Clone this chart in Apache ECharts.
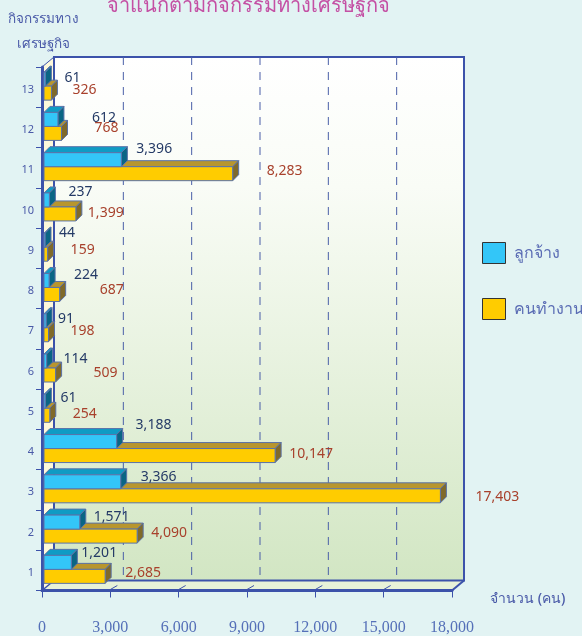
<!DOCTYPE html>
<html>
<head>
<meta charset="utf-8">
<script src="https://cdn.jsdelivr.net/npm/echarts@6/dist/echarts.min.js"></script>
<style>
  html, body { margin: 0; padding: 0; background: #e2f3f3; }
  #chart { width: 582px; height: 636px; }
</style>
</head>
<body>
<div id="chart"></div>
<script>
const categories = ['1','2','3','4','5','6','7','8','9','10','11','12','13'];
const employees = [1201, 1571, 3366, 3188, 61, 114, 91, 224, 44, 237, 3396, 612, 61];
const workers = [2685, 4090, 17403, 10147, 254, 509, 198, 687, 159, 1399, 8283, 768, 326];
const xTicks = [3000, 6000, 9000, 12000, 15000];

// hand placed labels in the original, offsets from the bar end
const employeeLabelDx = [10, 14, 20, 19, 15, 17, 12, 25, 14, 19, 15, 34, 19];
const employeeLabelDy = [-17, -13, -13, -25, -11, -10, -10, -13, -15, -16, -19, -9, -9];
const workerLabelDx = [20, 14, 35, 14, 23, 38, 22, 40, 23, 12, 34, 33, 21];
const workerLabelDy = [3, 3, 7, 4, 5, 4, 2, 2, 2, 5, 3, 1, 3];

const font = '"Noto Sans", "Open Sans", sans-serif';
const depth = 6;
const wallX = 12, wallY = 10;
const lineBlue = '#3c52aa';

const chart = echarts.init(document.getElementById('chart'));

function poly(points, fill) {
  return {
    type: 'polygon',
    shape: { points: points },
    style: { fill: fill, stroke: '#5a72a8', lineWidth: 1 }
  };
}

// 3d box for one bar, top is the offset from the band centre
function boxRenderer(values, top, colors, textColor, dxs, dys) {
  return function (params, api) {
    const v = api.value(0);
    const c = api.coord([v, api.value(1)]);
    const x0 = api.coord([0, api.value(1)])[0] + 2;
    const x1 = c[0] + 2;
    const y0 = c[1] + top;
    const y1 = y0 + 14;
    const i = params.dataIndex;
    return {
      type: 'group',
      children: [
        poly([[x0, y0], [x0 + depth, y0 - depth], [x1 + depth, y0 - depth], [x1, y0]], colors[1]),
        poly([[x1, y0], [x1 + depth, y0 - depth], [x1 + depth, y1 - depth], [x1, y1]], colors[2]),
        poly([[x0, y0], [x1, y0], [x1, y1], [x0, y1]], colors[0]),
        {
          type: 'text',
          z2: 50,
          style: {
            text: values[i].toLocaleString('en-US'),
            x: x1 + dxs[i],
            y: c[1] + dys[i],
            fill: textColor,
            font: '14px ' + font,
            textVerticalAlign: 'middle'
          }
        }
      ]
    };
  };
}

// walls, floor and the dashed lines on the back wall
function renderRoom(params, api) {
  const g = params.coordSys;
  const l = g.x, t = g.y, r = g.x + g.width, b = g.y + g.height;
  const children = [
    {
      type: 'polygon',
      shape: { points: [[l, t], [l + wallX, t - wallY], [l + wallX, b - wallY], [l, b]] },
      style: { fill: '#fdf8da' }
    },
    {
      type: 'polygon',
      shape: { points: [[l, b], [l + wallX, b - wallY], [r + wallX, b - wallY], [r, b]] },
      style: { fill: '#e8f2d8' }
    },
    {
      type: 'rect',
      shape: { x: l + wallX, y: t - wallY, width: g.width, height: g.height },
      style: {
        fill: new echarts.graphic.LinearGradient(0, 0, 0, 1, [
          { offset: 0, color: '#ffffff' },
          { offset: 0.25, color: '#f9fcf6' },
          { offset: 1, color: '#d2e6c3' }
        ]),
        stroke: lineBlue,
        lineWidth: 2
      }
    },
    {
      type: 'polyline',
      shape: { points: [[l, b], [l + wallX, b - wallY]] },
      style: { stroke: lineBlue, lineWidth: 1.5, fill: null }
    },
    {
      type: 'polyline',
      shape: { points: [[r, b], [r + wallX, b - wallY]] },
      style: { stroke: lineBlue, lineWidth: 2, fill: null }
    },
    {
      type: 'polyline',
      shape: { points: [[l, t], [l + wallX, t - wallY]] },
      style: { stroke: lineBlue, lineWidth: 1, fill: null }
    }
  ];
  xTicks.forEach(function (tick) {
    const x = api.coord([tick, 0])[0];
    children.push({
      type: 'line',
      shape: { x1: x + wallX + 1, y1: t - wallY, x2: x + wallX + 1, y2: b - wallY },
      style: { stroke: '#4a5fa8', lineWidth: 1, lineDash: [8, 7] }
    });
    children.push({
      type: 'line',
      shape: { x1: x, y1: b - 1, x2: x + 7, y2: b - 5 },
      style: { stroke: lineBlue, lineWidth: 1 }
    });
  });
  return { type: 'group', children: children };
}

const option = {
  backgroundColor: '#e2f3f3',
  animation: false,
  title: {
    text: 'จำแนกตามกิจกรรมทางเศรษฐกิจ',
    left: 107,
    top: -4,
    padding: 0,
    textStyle: { color: '#c450a4', fontSize: 20, fontWeight: 'normal', fontFamily: font }
  },
  legend: {
    orient: 'vertical',
    left: 482,
    top: 242,
    padding: 0,
    itemWidth: 23,
    itemHeight: 21,
    itemGap: 34,
    icon: 'rect',
    data: ['ลูกจ้าง', 'คนทำงาน'],
    itemStyle: { borderColor: '#333333', borderWidth: 1 },
    textStyle: { color: '#5a6cb4', fontSize: 16, fontFamily: font, padding: [0, 0, 0, 3] }
  },
  grid: { left: 42, top: 67, width: 410, height: 523.5, containLabel: false },
  xAxis: {
    type: 'value',
    min: 0,
    max: 18000,
    interval: 3000,
    z: 1,
    name: 'จำนวน (คน)',
    nameLocation: 'end',
    nameGap: 38,
    nameTextStyle: { color: '#4a5aa8', fontSize: 14, fontWeight: 500, fontFamily: font, verticalAlign: 'top', padding: [2, 0, 0, 0] },
    axisLine: { show: true, lineStyle: { color: lineBlue, width: 3 } },
    axisTick: { show: true, length: 7, lineStyle: { color: lineBlue, width: 1 } },
    splitLine: { show: false },
    axisLabel: {
      margin: 29,
      color: '#5570b8',
      fontSize: 16,
      fontFamily: '"Liberation Serif", serif',
      formatter: function (v) { return v.toLocaleString('en-US'); }
    }
  },
  yAxis: {
    type: 'category',
    data: categories,
    z: 1,
    name: 'กิจกรรมทาง\nเศรษฐกิจ',
    nameLocation: 'end',
    nameGap: 10,
    nameTextStyle: { color: '#4a5aa8', fontSize: 13.5, fontWeight: 500, fontFamily: font, lineHeight: 25, align: 'center', padding: [0, 0, 0, 2] },
    axisLine: { show: true, lineStyle: { color: lineBlue, width: 3 } },
    axisTick: { show: true, length: 6, lineStyle: { color: lineBlue, width: 1 } },
    axisLabel: { margin: 8, color: '#4a5aa8', fontSize: 11, fontFamily: font, verticalAlign: 'top', padding: [-3, 0, 0, 0] }
  },
  series: [
    {
      type: 'custom',
      name: 'room',
      z: 0,
      silent: true,
      renderItem: renderRoom,
      encode: { x: 0, y: 1 },
      data: [[0, 0]]
    },
    {
      type: 'custom',
      name: 'คนทำงาน',
      z: 3,
      itemStyle: { color: '#ffcc00' },
      renderItem: boxRenderer(workers, -1, ['#ffcc00', '#b8962e', '#806a2a'], '#a8412c', workerLabelDx, workerLabelDy),
      encode: { x: 0, y: 1 },
      data: workers.map(function (v, i) { return [v, i]; })
    },
    {
      type: 'custom',
      name: 'ลูกจ้าง',
      z: 4,
      itemStyle: { color: '#33c6f8' },
      renderItem: boxRenderer(employees, -15, ['#33c6f8', '#0f9bc4', '#0a6584'], '#243a66', employeeLabelDx, employeeLabelDy),
      encode: { x: 0, y: 1 },
      data: employees.map(function (v, i) { return [v, i]; })
    }
  ]
};

chart.setOption(option);
</script>
</body>
</html>
